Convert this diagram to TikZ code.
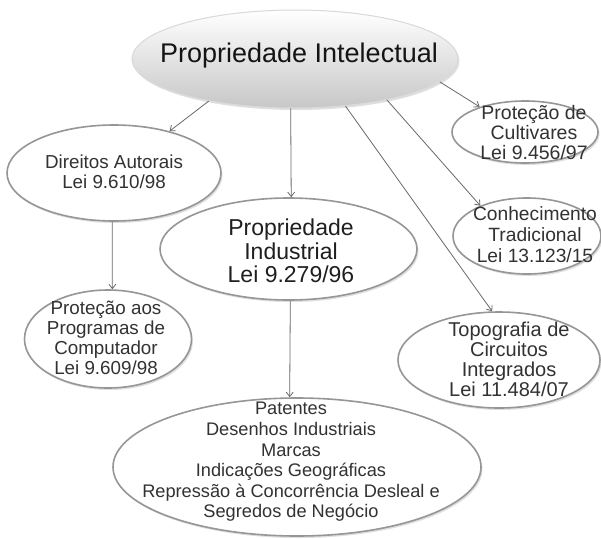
\documentclass[tikz,border=0pt]{standalone}
\usepackage{fontspec}
\setmainfont{Liberation Sans}
\usetikzlibrary{shapes.geometric,arrows.meta,shadows}
\definecolor{linec}{RGB}{105,105,105}
\definecolor{txtc}{RGB}{50,50,50}
\definecolor{edgec}{RGB}{150,150,150}
\begin{document}
\begin{tikzpicture}[x=1pt,y=-1pt,
  ell/.style={ellipse, inner sep=0pt, draw=edgec, line width=1.6pt, fill=white,
    drop shadow={opacity=0.25, shadow xshift=1.5pt, shadow yshift=-2pt}},
  lbl/.style={align=center, text=txtc, inner sep=0pt},
  conn/.style={draw=linec, line width=0.8pt, -{Straight Barb[length=4.5pt,width=7pt]}}]
\useasboundingbox[fill=white] (0,0) rectangle (601,538);

\node[ell, top color=white, bottom color=black!22, draw=black!15, line width=1pt,
      minimum width=326pt, minimum height=98pt] (pint) at (295,59) {};
\node[lbl, text=black!92, font=\fontsize{27}{30}\selectfont] (tpint) at (299,56) {Propriedade Intelectual};

\node[ell, minimum width=214pt, minimum height=96pt] (da) at (114,173) {};
\node[lbl, font=\fontsize{18.8}{19.5}\selectfont] (tda) at (114,172) {Direitos Autorais\\Lei 9.610/98};

\node[ell, minimum width=257pt, minimum height=102pt] (pind) at (288.5,249) {};
\node[lbl, text=black!88, font=\fontsize{23}{23.5}\selectfont] (tpind) at (291,251) {Propriedade\\Industrial\\Lei 9.279/96};

\node[ell, minimum width=167pt, minimum height=98pt] (prog) at (108,339) {};
\node[lbl, font=\fontsize{18.8}{20}\selectfont] (tprog) at (106,338) {Proteção aos\\Programas de\\Computador\\Lei 9.609/98};

\node[ell, minimum width=146pt, minimum height=62pt] (cult) at (525,132) {};
\node[lbl, font=\fontsize{19.5}{20}\selectfont] (tcult) at (534,133) {Proteção de\\Cultivares\\Lei 9.456/97};

\node[ell, minimum width=148pt, minimum height=76pt] (conh) at (527,236) {};
\node[lbl, font=\fontsize{19.2}{21}\selectfont] (tconh) at (535,235) {Conhecimento\\Tradicional\\Lei 13.123/15};

\node[ell, minimum width=202pt, minimum height=96pt] (topo) at (499,360) {};
\node[lbl, font=\fontsize{20}{20}\selectfont] (ttopo) at (509,359) {Topografia de\\Circuitos\\Integrados\\Lei 11.484/07};

\node[ell, minimum width=368pt, minimum height=138pt] (pat) at (297,467) {};
\node[lbl, font=\fontsize{18.2}{20.6}\selectfont] (tpat) at (291,462) {Patentes\\Desenhos Industriais\\Marcas\\Indicações Geográficas\\Repressão à Concorrência Desleal e\\Segredos de Negócio};

\draw[conn] (pint.206) -- (da.37);
\draw[conn] (pint.265) -- (pind.87);
\draw[conn] (pint.317) -- (topo.98);
\draw[conn] (pint.336) -- (conh.147);
\draw[conn] (pint.351) -- (cult.151);
\draw[conn] (da.268) -- (prog.85);
\draw[conn] (pind.272) -- (pat.96);
\end{tikzpicture}
\end{document}
